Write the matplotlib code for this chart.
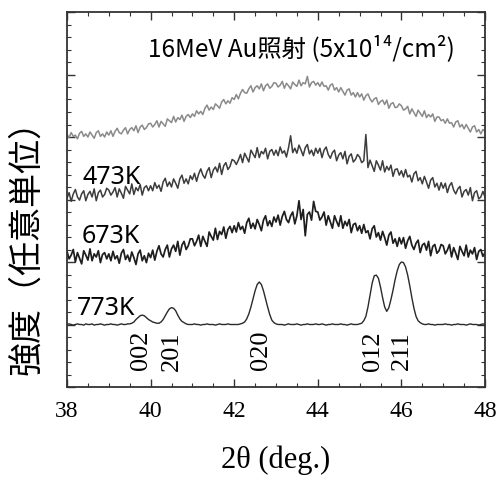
import numpy as np
import matplotlib
matplotlib.use("Agg")
import matplotlib.pyplot as plt
from matplotlib.ticker import MultipleLocator

# 2-theta sampling (deg), step 0.05 from 38 to 48
theta_start = 38.0
theta_step = 0.05

# As-irradiated (gray, top)
irradiated = [
    4.04, 3.99, 4.07, 4.01, 4.03, 3.97, 4.06, 4.09, 4.01, 4.05, 4.00, 4.08, 4.03, 3.98, 4.07, 4.10, 4.01, 4.05, 4.00, 4.08,
    4.03, 4.10, 4.01, 4.09, 4.14, 4.07, 4.05, 4.11, 4.15, 4.05, 4.12, 4.15, 4.10, 4.18, 4.07, 4.16, 4.19, 4.12, 4.15, 4.21,
    4.22, 4.16, 4.20, 4.26, 4.16, 4.25, 4.21, 4.17, 4.29, 4.26, 4.23, 4.33, 4.24, 4.31, 4.28, 4.35, 4.25, 4.33, 4.36, 4.31,
    4.37, 4.33, 4.42, 4.37, 4.41, 4.36, 4.46, 4.51, 4.43, 4.48, 4.44, 4.53, 4.50, 4.46, 4.56, 4.60, 4.53, 4.58, 4.54, 4.63,
    4.60, 4.68, 4.61, 4.70, 4.76, 4.71, 4.70, 4.77, 4.82, 4.72, 4.79, 4.82, 4.77, 4.85, 4.74, 4.82, 4.85, 4.78, 4.81, 4.87,
    4.86, 4.80, 4.83, 4.89, 4.78, 4.86, 4.82, 4.77, 4.88, 4.84, 4.81, 4.91, 4.82, 4.87, 4.85, 4.97, 4.80, 4.87, 4.89, 4.83,
    4.87, 4.81, 4.88, 4.81, 4.82, 4.75, 4.83, 4.85, 4.75, 4.79, 4.72, 4.79, 4.73, 4.67, 4.75, 4.77, 4.67, 4.71, 4.64, 4.71,
    4.64, 4.69, 4.59, 4.66, 4.69, 4.61, 4.56, 4.61, 4.63, 4.52, 4.57, 4.59, 4.52, 4.59, 4.46, 4.53, 4.55, 4.47, 4.48, 4.53,
    4.50, 4.43, 4.45, 4.49, 4.37, 4.45, 4.39, 4.33, 4.43, 4.38, 4.33, 4.42, 4.31, 4.36, 4.32, 4.37, 4.25, 4.32, 4.32, 4.26,
    4.28, 4.22, 4.29, 4.22, 4.23, 4.16, 4.24, 4.26, 4.16, 4.20, 4.13, 4.20, 4.14, 4.08, 4.16, 4.18, 4.08, 4.12, 4.05, 4.12, 4.09,
]

# 473 K anneal
k473 = [
    3.02, 3.11, 2.97, 3.09, 3.16, 3.04, 2.99, 3.09, 3.14, 2.98, 3.08, 3.13, 3.04, 3.17, 2.98, 3.11, 3.15, 3.04, 3.08, 3.18,
    3.15, 3.07, 3.12, 3.19, 3.04, 3.17, 3.10, 3.02, 3.21, 3.15, 3.09, 3.25, 3.08, 3.19, 3.14, 3.24, 3.07, 3.19, 3.22, 3.14,
    3.22, 3.14, 3.27, 3.18, 3.23, 3.13, 3.28, 3.34, 3.21, 3.28, 3.20, 3.33, 3.26, 3.18, 3.33, 3.39, 3.26, 3.33, 3.25, 3.38,
    3.32, 3.42, 3.29, 3.41, 3.49, 3.39, 3.34, 3.45, 3.51, 3.35, 3.47, 3.52, 3.44, 3.58, 3.40, 3.54, 3.59, 3.48, 3.53, 3.64,
    3.62, 3.56, 3.63, 3.72, 3.59, 3.74, 3.67, 3.60, 3.79, 3.73, 3.67, 3.83, 3.67, 3.77, 3.73, 3.82, 3.65, 3.77, 3.80, 3.71,
    3.79, 3.70, 3.84, 3.74, 3.78, 3.68, 3.83, 4.02, 3.75, 3.82, 3.74, 3.87, 3.79, 3.70, 3.83, 3.88, 3.73, 3.79, 3.70, 3.82,
    3.74, 3.82, 3.67, 3.79, 3.84, 3.72, 3.66, 3.75, 3.79, 3.62, 3.71, 3.75, 3.65, 3.77, 3.57, 3.69, 3.73, 3.60, 3.64, 3.72,
    3.68, 3.59, 3.62, 4.04, 3.51, 3.63, 3.54, 3.45, 3.62, 3.55, 3.47, 3.62, 3.44, 3.53, 3.47, 3.55, 3.37, 3.48, 3.49, 3.39,
    3.46, 3.36, 3.48, 3.36, 3.39, 3.28, 3.41, 3.45, 3.30, 3.35, 3.25, 3.37, 3.28, 3.18, 3.31, 3.35, 3.20, 3.26, 3.15, 3.27,
    3.18, 3.26, 3.11, 3.22, 3.27, 3.15, 3.09, 3.17, 3.21, 3.04, 3.13, 3.16, 3.07, 3.19, 2.98, 3.11, 3.14, 3.01, 3.04, 3.13, 3.04,
]

# 673 K anneal
k673 = [
    2.17, 2.05, 2.11, 2.20, 2.00, 2.15, 2.06, 1.97, 2.18, 2.11, 2.03, 2.21, 2.02, 2.13, 2.08, 2.18, 1.99, 2.12, 2.15, 2.05,
    2.13, 2.02, 2.17, 2.05, 2.10, 1.98, 2.14, 2.20, 2.04, 2.11, 2.01, 2.16, 2.07, 1.96, 2.13, 2.19, 2.02, 2.10, 1.99, 2.14,
    2.07, 2.19, 2.03, 2.17, 2.26, 2.13, 2.08, 2.20, 2.27, 2.08, 2.21, 2.27, 2.17, 2.33, 2.11, 2.27, 2.33, 2.20, 2.26, 2.37,
    2.37, 2.26, 2.33, 2.43, 2.25, 2.41, 2.33, 2.25, 2.48, 2.41, 2.35, 2.54, 2.36, 2.49, 2.44, 2.56, 2.38, 2.52, 2.57, 2.47,
    2.58, 2.48, 2.63, 2.52, 2.57, 2.46, 2.63, 2.70, 2.54, 2.62, 2.53, 2.68, 2.60, 2.50, 2.67, 2.74, 2.58, 2.66, 2.57, 2.72,
    2.64, 2.75, 2.59, 2.73, 2.81, 2.68, 2.63, 2.74, 2.80, 2.61, 2.74, 2.98, 2.68, 2.84, 2.42, 2.76, 2.80, 2.67, 2.97, 2.81,
    2.80, 2.67, 2.72, 2.80, 2.59, 2.74, 2.64, 2.54, 2.74, 2.65, 2.57, 2.74, 2.54, 2.65, 2.58, 2.68, 2.47, 2.60, 2.62, 2.50,
    2.58, 2.46, 2.60, 2.47, 2.50, 2.37, 2.53, 2.58, 2.40, 2.47, 2.35, 2.49, 2.39, 2.27, 2.43, 2.48, 2.30, 2.37, 2.25, 2.39,
    2.29, 2.39, 2.22, 2.34, 2.41, 2.27, 2.20, 2.30, 2.35, 2.15, 2.27, 2.30, 2.19, 2.33, 2.10, 2.25, 2.28, 2.14, 2.18, 2.28,
    2.26, 2.13, 2.19, 2.28, 2.08, 2.23, 2.14, 2.04, 2.25, 2.17, 2.10, 2.27, 2.08, 2.19, 2.13, 2.23, 2.04, 2.17, 2.20, 2.09, 2.15,
]

# 773 K anneal (crystallised)
k773 = [
    1.00, 1.01, 1.00, 0.99, 1.00, 1.01, 1.00, 1.00, 0.99, 1.01, 1.00, 1.00, 1.01, 0.99, 1.00, 1.00, 1.01, 1.00, 0.99, 1.00,
    1.00, 1.01, 1.00, 1.00, 0.99, 1.00, 1.01, 1.00, 1.00, 1.01, 1.01, 1.02, 1.04, 1.08, 1.11, 1.14, 1.15, 1.14, 1.11, 1.08,
    1.06, 1.04, 1.03, 1.02, 1.02, 1.04, 1.08, 1.14, 1.20, 1.25, 1.27, 1.26, 1.22, 1.15, 1.09, 1.05, 1.03, 1.01, 1.00, 1.00,
    1.00, 1.01, 1.00, 1.00, 0.99, 1.00, 1.00, 1.01, 1.00, 1.00, 1.00, 0.99, 1.00, 1.01, 1.00, 1.00, 1.00, 1.01, 1.00, 1.00,
    1.00, 1.00, 1.00, 1.01, 1.02, 1.04, 1.09, 1.17, 1.28, 1.41, 1.54, 1.64, 1.68, 1.64, 1.54, 1.41, 1.28, 1.16, 1.07, 1.03,
    1.01, 1.00, 1.00, 1.00, 0.99, 1.00, 1.01, 1.00, 1.00, 1.00, 1.01, 1.00, 0.99, 1.00, 1.00, 1.01, 1.00, 1.00, 1.00, 1.01,
    1.00, 1.00, 1.01, 1.00, 0.99, 1.00, 1.00, 1.01, 1.00, 1.00, 1.00, 1.01, 1.00, 1.00, 0.99, 1.00, 1.01, 1.00, 1.00, 1.00,
    1.01, 1.02, 1.06, 1.13, 1.28, 1.47, 1.66, 1.78, 1.79, 1.74, 1.60, 1.43, 1.28, 1.21, 1.27, 1.40, 1.55, 1.72, 1.86, 1.96,
    2.00, 1.99, 1.92, 1.79, 1.62, 1.43, 1.26, 1.13, 1.06, 1.03, 1.01, 1.00, 1.00, 1.01, 1.00, 1.00, 0.99, 1.00, 1.00, 1.00,
    1.00, 1.01, 1.00, 1.00, 0.99, 1.00, 1.00, 1.01, 1.00, 1.00, 1.00, 0.99, 1.00, 1.01, 1.00, 1.00, 1.00, 0.99, 1.00, 1.01, 1.00,
]

series_labels = ["473K", "673K", "773K"]
peak_names = ["002", "201", "020", "012", "211"]
peak_pos = [39.76, 40.50, 42.64, 45.32, 46.00]

title_text = "16MeV Au照射 (5x10¹⁴/cm²)"
xlabel_text = "2θ (deg.)"
ylabel_text = "強度（任意単位）"

theta = np.round(theta_start + theta_step * np.arange(len(k773)), 2)

fig = plt.figure(figsize=(5.02, 4.8), dpi=100)
ax = fig.add_axes([67 / 502, 1 - 387 / 480, (485 - 67) / 502, (387 - 12) / 480])

ax.plot(theta, irradiated, color="#8a8a8a", lw=1.1)
ax.plot(theta, k473, color="#3c3c3c", lw=1.1)
ax.plot(theta, k673, color="#1e1e1e", lw=1.25)
ax.plot(theta, k773, color="#2a2a2a", lw=1.0)

ax.set_xlim(38, 48)
ax.set_ylim(0, 6)
ax.xaxis.set_major_locator(MultipleLocator(2))
ax.xaxis.set_minor_locator(MultipleLocator(0.5))
ax.yaxis.set_major_locator(MultipleLocator(1))
ax.yaxis.set_minor_locator(MultipleLocator(0.2))
ax.tick_params(which="both", direction="in", top=True, right=True, color="#333333")
ax.tick_params(which="major", length=6, width=1.0)
ax.tick_params(which="minor", length=3, width=0.8)
ax.tick_params(axis="y", labelleft=False)
ax.tick_params(axis="x", labelsize=17, pad=10)
for lbl in ax.get_xticklabels():
    lbl.set_fontfamily("Liberation Serif")
for sp in ax.spines.values():
    sp.set_linewidth(1.3)
    sp.set_color("#333333")

ax.set_xlabel(xlabel_text, family="Liberation Serif", fontsize=22, labelpad=17)
fig.text(27 / 502, 1 - 239 / 480, ylabel_text, rotation=90, ha="center", va="center",
         family=["Noto Sans CJK JP", "DejaVu Sans"], fontsize=24.5)

ax.text(39.94, 5.3, title_text, family=["Noto Sans CJK JP", "DejaVu Sans"], fontsize=17.5,
        ha="left", va="baseline")

label_pos = [(38.38, 3.24), (38.36, 2.31), (38.24, 1.15)]
for name, (lx, ly) in zip(series_labels, label_pos):
    ax.text(lx, ly, name, family="Noto Sans", fontsize=18, ha="left", va="baseline")

for name, px in zip(peak_names, peak_pos):
    ax.text(px, 0.58, name, family="Liberation Serif", fontsize=19, rotation=90,
            ha="center", va="center")

fig.savefig("out.png", dpi=100)
